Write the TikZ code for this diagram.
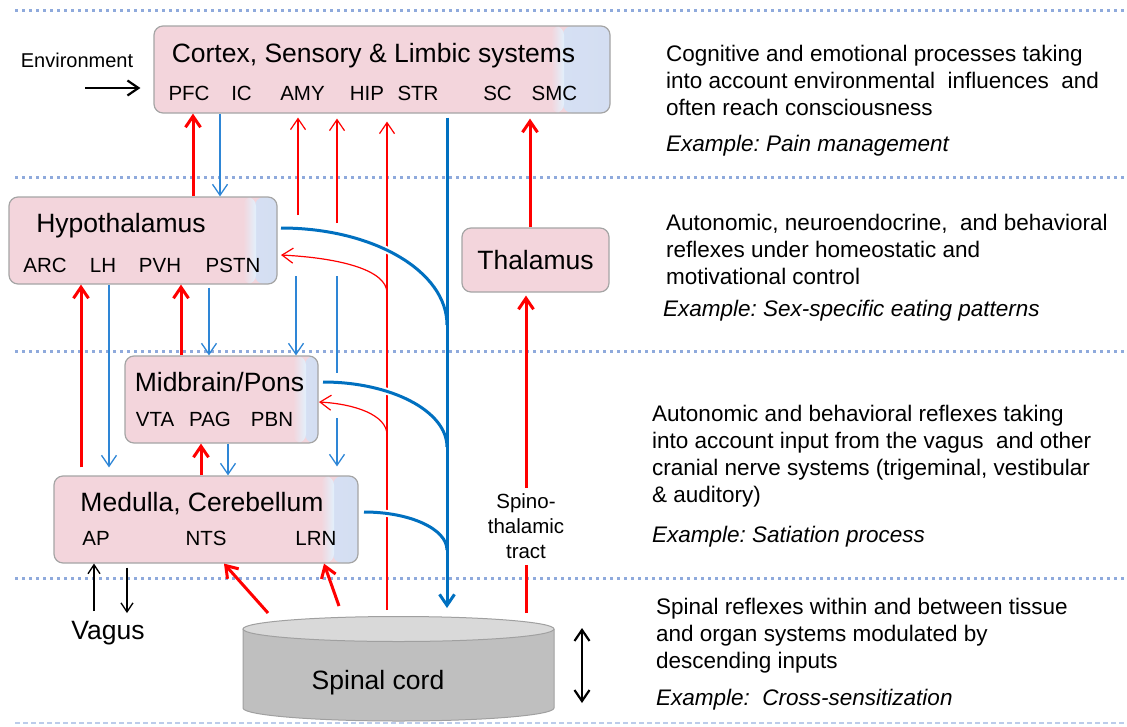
\documentclass[tikz,border=0pt]{standalone}
\usepackage{fontspec}
\setmainfont{Liberation Sans}
\usetikzlibrary{arrows.meta}
\frenchspacing
\definecolor{boxpink}{RGB}{243,213,220}
\definecolor{boxsky}{RGB}{226,240,252}
\definecolor{boxsteel}{RGB}{212,222,242}
\definecolor{boxrim}{RGB}{165,165,165}
\definecolor{sepblue}{RGB}{143,170,220}
\definecolor{nerveblue}{RGB}{0,112,192}
\definecolor{thinblue}{RGB}{46,134,214}
\definecolor{cordbody}{RGB}{191,191,191}
\definecolor{cordtop}{RGB}{217,217,217}
\definecolor{cordrim}{RGB}{160,160,160}
\tikzset{
    >={Straight Barb[length=11pt,width=15pt]},
    region/.style={
           rectangle, rounded corners=9pt,
           draw=boxrim, line width=1.2pt,
           fill=boxpink,
           inner sep=0pt},
    haze/.style={
           path picture={
             \shade[left color=boxsky, right color=boxsteel]
               ([xshift=-#1+10pt]path picture bounding box.north east) rectangle
               (path picture bounding box.south east);
             \shade[left color=boxpink, right color=boxsky]
               ([xshift=-#1-2pt]path picture bounding box.north east) rectangle
               ([xshift=-#1+11pt]path picture bounding box.south east);}},
    title/.style={font=\fontsize{26.5}{30}\selectfont, anchor=base, inner sep=0pt},
    tag/.style={font=\fontsize{20.5}{24}\selectfont, anchor=base, inner sep=0pt},
    note/.style={font=\fontsize{22.5}{27}\selectfont, align=left, anchor=north west, inner sep=0pt},
    example/.style={font=\fontsize{22.5}{27}\selectfont\itshape, anchor=base west, inner sep=0pt},
    sep/.style={sepblue, line width=3pt, dash pattern=on 3pt off 4pt},
    redup/.style={->, red, line width=3pt},
    redthin/.style={->, red, line width=1.2pt},
    bluedown/.style={->, thinblue, line width=1.3pt},
    bluethick/.style={nerveblue, line width=3pt},
    bluebend/.style={nerveblue, line width=3pt, preaction={draw=white, line width=7pt}},
    vagal/.style={-{Straight Barb[length=9pt,width=12pt]}, black, line width=1.3pt},
    heavy/.style={black, line width=2.2pt}
}

\begin{document}
\begin{tikzpicture}[x=1pt, y=1pt]
        \useasboundingbox (0,0) rectangle (1127,-726);

        % level separators
        \draw[sep] (15,-10) -- (1127,-10);
        \draw[sep] (15,-177) -- (1127,-177);
        \draw[sep] (15,-351) -- (1127,-351);
        \draw[sep] (15,-578) -- (1127,-578);
        \draw[sepblue!60, line width=1.5pt, dash pattern=on 5pt off 3pt] (15,-723) -- (1127,-723);

        % brain regions
        \node[region, haze=57pt, minimum width=456pt, minimum height=87pt] (ctx) at (382,-69.5) {};
        \node[region, haze=32pt, minimum width=268pt, minimum height=87pt] (hyp) at (143,-240.5) {};
        \node[region, minimum width=147pt, minimum height=64pt, font=\fontsize{26.5}{30}\selectfont] (thal) at (535.5,-260) {Thalamus};
        \node[region, haze=23pt, minimum width=193pt, minimum height=87pt] (mid) at (221.5,-399.5) {};
        \node[region, haze=35pt, minimum width=304pt, minimum height=87pt] (med) at (206,-519.5) {};

        \node[title] (ctxname) at (373.5,-62) {Cortex, Sensory \& Limbic systems};
        \node[tag] (pfc) at (189,-100) {PFC};
        \node[tag] (ic) at (241.5,-100) {IC};
        \node[tag] (amy) at (302.5,-100) {AMY};
        \node[tag] (hip) at (367,-100) {HIP};
        \node[tag] (str) at (418,-100) {STR};
        \node[tag] (sc) at (497.5,-100) {SC};
        \node[tag] (smc) at (554.5,-100) {SMC};

        \node[title] (hypname) at (121,-232) {Hypothalamus};
        \node[tag] (arc) at (45,-272) {ARC};
        \node[tag] (lh) at (103,-272) {LH};
        \node[tag] (pvh) at (160,-272) {PVH};
        \node[tag] (pstn) at (233,-272) {PSTN};

        \node[title] (midname) at (219.5,-391) {Midbrain/Pons};
        \node[tag] (vta) at (155,-426) {VTA};
        \node[tag] (pag) at (210,-426) {PAG};
        \node[tag] (pbn) at (272,-426) {PBN};

        \node[title] (medname) at (202,-511) {Medulla, Cerebellum};
        \node[tag] (ap) at (96,-545) {AP};
        \node[tag] (nts) at (206,-545) {NTS};
        \node[tag] (lrn) at (316,-545) {LRN};

        \node[tag, font=\fontsize{20}{24}\selectfont] (env) at (77,-67) {Environment};
        \node[title] (vagus) at (108,-639) {Vagus};

        % spinal cord
        \fill[cordbody] (243,-629) -- (243,-708) arc[start angle=180, end angle=360, x radius=155.5, y radius=13] -- (554,-629) -- cycle;
        \draw[cordrim, line width=1pt] (243,-629) -- (243,-708) arc[start angle=180, end angle=360, x radius=155.5, y radius=13] -- (554,-629);
        \filldraw[draw=cordrim, fill=cordtop, line width=1pt] (398.5,-629) ellipse [x radius=155.5, y radius=12.5];
        \node[title] (cord) at (378,-689) {Spinal cord};

        % descriptions
        \node[note] (tier1) at (666,-45) {Cognitive and emotional processes taking\\into account environmental~ influences~ and\\often reach consciousness};
        \node[example] (ex1) at (666,-151) {Example: Pain management};
        \node[note] (tier2) at (666,-214) {Autonomic, neuroendocrine,~ and behavioral\\reflexes under homeostatic and\\motivational control};
        \node[example] (ex2) at (663,-316) {Example: Sex-specific eating patterns};
        \node[note] (tier3) at (652,-405) {Autonomic and behavioral reflexes taking\\into account input from the vagus~ and other\\cranial nerve systems (trigeminal, vestibular\\\& auditory)};
        \node[example] (ex3) at (652,-542) {Example: Satiation process};
        \node[note] (tier4) at (656,-598) {Spinal reflexes within and between tissue\\and organ systems modulated by\\descending inputs};
        \node[example] (ex4) at (656,-705) {Example:~ Cross-sensitization};

        % free ends
        \coordinate (envsrc) at (85,-88);
        \coordinate (amysrc) at (298,-215);
        \coordinate (hipsrc) at (337,-223);
        \coordinate (ascsrc) at (387,-610);
        \coordinate (sttsrc) at (526,-613);
        \coordinate (dscend) at (447,-608);
        \coordinate (hypout) at (281,-228);
        \coordinate (hypin) at (281,-255);
        \coordinate (hypfork) at (387,-293);
        \coordinate (hypjoin) at (447,-325);
        \coordinate (midout) at (323,-382);
        \coordinate (midin) at (319,-402);
        \coordinate (midfork) at (387,-435);
        \coordinate (midjoin) at (447,-447);
        \coordinate (medout) at (364,-512);
        \coordinate (medjoin) at (447,-550);
        \coordinate (pvsrc) at (296,-276);
        \coordinate (lrnsrc) at (337,-276);
        \coordinate (lrngap) at (337,-373);
        \coordinate (lrnres) at (337,-418);
        \coordinate (ntssrc) at (268,-613);
        \coordinate (lrnspin) at (339,-606);
        \coordinate (vagin) at (94,-611);
        \coordinate (vagout) at (127,-613);
        \coordinate (scaleup) at (582,-628);
        \coordinate (scaledn) at (582,-703);

        % cortex level
        \draw[heavy, ->, shorten >=13pt] (envsrc) -- (ctx.west |- envsrc);
        \draw[redup] (hyp.north -| 193,0) -- (ctx.south -| 193,0);
        \draw[bluedown] (ctx.south -| 220,0) -- (hyp.north -| 220,0);
        \draw[redthin, shorten >=4pt] (amysrc) -- (ctx.south -| amysrc);
        \draw[redthin, shorten >=5pt] (hipsrc) -- (ctx.south -| hipsrc);
        \draw[redthin, shorten >=8pt] (ascsrc) -- (ctx.south -| ascsrc);
        \draw[redthin] (hypfork) .. controls (387,-270) and (340,-258) .. (hypin);
        \draw[redthin] (midfork) .. controls (387,-415) and (355,-404) .. (midin);
        \draw[redup, shorten >=5pt] (thal.north -| 530,0) -- (ctx.south -| 530,0);
        \draw[redup, shorten >=3pt] (sttsrc) -- node[pos=0.27, fill=white, text=black, inner xsep=2pt, inner ysep=6pt, align=center, font=\fontsize{20.5}{25}\selectfont] (stt) {Spino-\\thalamic\\tract} (thal.south -| sttsrc);

        % hypothalamus level
        \draw[redup, shorten <=8pt] (med.north -| 81,0) -- (hyp.south -| 81,0);
        \draw[bluedown, shorten >=8pt] (hyp.south -| 109,0) -- (med.north -| 109,0);
        \draw[redup] (mid.north -| 181,0) -- (hyp.south -| 181,0);
        \draw[bluedown, shorten <=3pt] (hyp.south -| 209,0) -- (mid.north -| 209,0);
        \draw[bluedown] (pvsrc) -- (mid.north -| pvsrc);
        \draw[thinblue, line width=1.3pt] (lrnsrc) -- (lrngap);
        \draw[bluedown, shorten >=9pt] (lrnres) -- (med.north -| lrnres);

        % midbrain level
        \draw[redup] (med.north -| 201,0) -- (mid.south -| 201,0);
        \draw[bluedown] (mid.south -| 228,0) -- (med.north -| 228,0);

        % spinal and vagal inputs
        \draw[redup] (ntssrc) -- (med.south -| 224,0);
        \draw[redup] (lrnspin) -- (med.south -| 324,0);
        \draw[vagal] (vagin) -- (med.south -| vagin);
        \draw[vagal, shorten <=4pt] (med.south -| vagout) -- (vagout);
        \draw[heavy, <->] (scaleup) -- (scaledn);

        % descending pathway
        \draw[bluebend] (hypout) .. controls (373,-228) and (447,-271) .. (hypjoin);
        \draw[bluebend] (midout) .. controls (391,-382) and (447,-411) .. (midjoin);
        \draw[bluebend] (medout) .. controls (410,-512) and (447,-529) .. (medjoin);
        \draw[bluethick, ->, shorten <=4pt] (ctx.south -| dscend) -- (dscend);
\end{tikzpicture}
\end{document}
